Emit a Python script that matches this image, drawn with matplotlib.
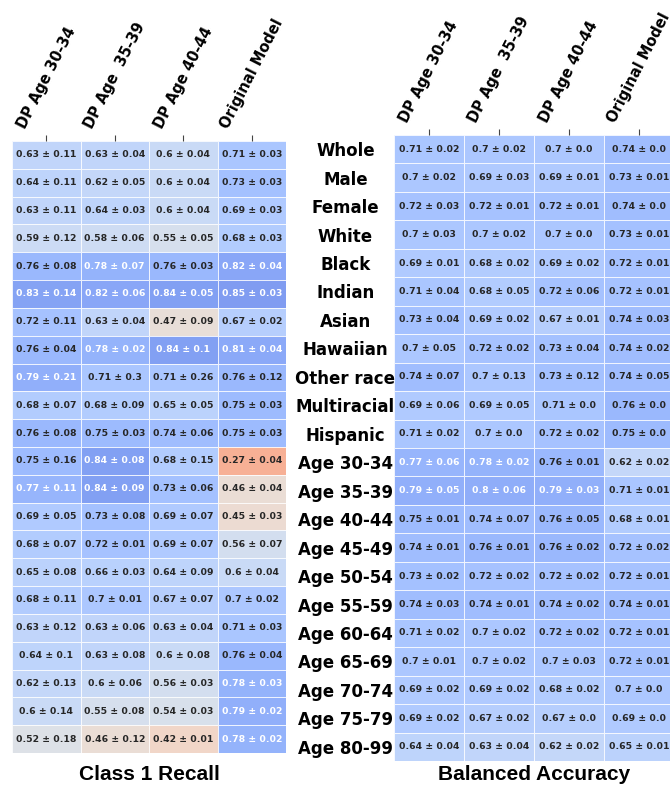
import matplotlib
matplotlib.use('Agg')
import matplotlib.pyplot as plt
import numpy as np

groups = ['Whole', 'Male', 'Female', 'White', 'Black', 'Indian', 'Asian', 'Hawaiian',
          'Other race', 'Multiracial', 'Hispanic', 'Age 30-34', 'Age 35-39', 'Age 40-44',
          'Age 45-49', 'Age 50-54', 'Age 55-59', 'Age 60-64', 'Age 65-69', 'Age 70-74',
          'Age 75-79', 'Age 80-99']
models = ['DP Age 30-34', 'DP Age  35-39', 'DP Age 40-44', 'Original Model']

recall_mean = [
    [0.63, 0.63, 0.6, 0.71],
    [0.64, 0.62, 0.6, 0.73],
    [0.63, 0.64, 0.6, 0.69],
    [0.59, 0.58, 0.55, 0.68],
    [0.76, 0.78, 0.76, 0.82],
    [0.83, 0.82, 0.84, 0.85],
    [0.72, 0.63, 0.47, 0.67],
    [0.76, 0.78, 0.84, 0.81],
    [0.79, 0.71, 0.71, 0.76],
    [0.68, 0.68, 0.65, 0.75],
    [0.76, 0.75, 0.74, 0.75],
    [0.75, 0.84, 0.68, 0.27],
    [0.77, 0.84, 0.73, 0.46],
    [0.69, 0.73, 0.69, 0.45],
    [0.68, 0.72, 0.69, 0.56],
    [0.65, 0.66, 0.64, 0.6],
    [0.68, 0.7, 0.67, 0.7],
    [0.63, 0.63, 0.63, 0.71],
    [0.64, 0.63, 0.6, 0.76],
    [0.62, 0.6, 0.56, 0.78],
    [0.6, 0.55, 0.54, 0.79],
    [0.52, 0.46, 0.42, 0.78],
]
recall_std = [
    [0.11, 0.04, 0.04, 0.03],
    [0.11, 0.05, 0.04, 0.03],
    [0.11, 0.03, 0.04, 0.03],
    [0.12, 0.06, 0.05, 0.03],
    [0.08, 0.07, 0.03, 0.04],
    [0.14, 0.06, 0.05, 0.03],
    [0.11, 0.04, 0.09, 0.02],
    [0.04, 0.02, 0.1, 0.04],
    [0.21, 0.3, 0.26, 0.12],
    [0.07, 0.09, 0.05, 0.03],
    [0.08, 0.03, 0.06, 0.03],
    [0.16, 0.08, 0.15, 0.04],
    [0.11, 0.09, 0.06, 0.04],
    [0.05, 0.08, 0.07, 0.03],
    [0.07, 0.01, 0.07, 0.07],
    [0.08, 0.03, 0.09, 0.04],
    [0.11, 0.01, 0.07, 0.02],
    [0.12, 0.06, 0.04, 0.03],
    [0.1, 0.08, 0.08, 0.04],
    [0.13, 0.06, 0.03, 0.03],
    [0.14, 0.08, 0.03, 0.02],
    [0.18, 0.12, 0.01, 0.02],
]
bacc_mean = [
    [0.71, 0.7, 0.7, 0.74],
    [0.7, 0.69, 0.69, 0.73],
    [0.72, 0.72, 0.72, 0.74],
    [0.7, 0.7, 0.7, 0.73],
    [0.69, 0.68, 0.69, 0.72],
    [0.71, 0.68, 0.72, 0.72],
    [0.73, 0.69, 0.67, 0.74],
    [0.7, 0.72, 0.73, 0.74],
    [0.74, 0.7, 0.73, 0.74],
    [0.69, 0.69, 0.71, 0.76],
    [0.71, 0.7, 0.72, 0.75],
    [0.77, 0.78, 0.76, 0.62],
    [0.79, 0.8, 0.79, 0.71],
    [0.75, 0.74, 0.76, 0.68],
    [0.74, 0.76, 0.76, 0.72],
    [0.73, 0.72, 0.72, 0.72],
    [0.74, 0.74, 0.74, 0.74],
    [0.71, 0.7, 0.72, 0.72],
    [0.7, 0.7, 0.7, 0.72],
    [0.69, 0.69, 0.68, 0.7],
    [0.69, 0.67, 0.67, 0.69],
    [0.64, 0.63, 0.62, 0.65],
]
bacc_std = [
    [0.02, 0.02, 0.0, 0.0],
    [0.02, 0.03, 0.01, 0.01],
    [0.03, 0.01, 0.01, 0.0],
    [0.03, 0.02, 0.0, 0.01],
    [0.01, 0.02, 0.02, 0.01],
    [0.04, 0.05, 0.06, 0.01],
    [0.04, 0.02, 0.01, 0.03],
    [0.05, 0.02, 0.04, 0.02],
    [0.07, 0.13, 0.12, 0.05],
    [0.06, 0.05, 0.0, 0.0],
    [0.02, 0.0, 0.02, 0.0],
    [0.06, 0.02, 0.01, 0.02],
    [0.05, 0.06, 0.03, 0.01],
    [0.01, 0.07, 0.05, 0.01],
    [0.01, 0.01, 0.02, 0.02],
    [0.02, 0.02, 0.02, 0.01],
    [0.03, 0.01, 0.02, 0.01],
    [0.02, 0.02, 0.02, 0.01],
    [0.01, 0.02, 0.03, 0.01],
    [0.02, 0.02, 0.02, 0.0],
    [0.02, 0.02, 0.0, 0.0],
    [0.04, 0.04, 0.02, 0.01],
]

W, H = 670, 785
fig = plt.figure(figsize=(W / 100, H / 100), dpi=100)


def heatmap(ax, mean, std, title, labelpad):
    m = np.array(mean)
    ax.pcolormesh(m, cmap='coolwarm_r', vmin=0, vmax=1, alpha=0.85,
                  edgecolors='white', linewidth=0.5)
    for i in range(m.shape[0]):
        for j in range(m.shape[1]):
            col = 'white' if mean[i][j] >= 0.765 else '#262626'
            ax.text(j + 0.5, i + 0.5, f"{mean[i][j]} \u00b1 {std[i][j]}", ha='center', va='center',
                    fontsize=6.7, fontweight='bold', color=col)
    ax.set_xlim(0, m.shape[1])
    ax.set_ylim(m.shape[0], 0)
    ax.xaxis.tick_top()
    ax.set_xticks(np.arange(m.shape[1]) + 0.5)
    ax.set_xticklabels(models, rotation=63, fontsize=10.5, fontweight='bold')
    ax.tick_params(axis='x', length=4, color='#444444', pad=3)
    for s in ax.spines.values():
        s.set_visible(False)
    ax.xaxis.set_label_position('bottom')
    ax.set_xlabel(title, fontsize=15, fontweight='bold', family='Liberation Sans', labelpad=labelpad)


ax1 = fig.add_axes([12 / W, 1 - 753 / H, 274 / W, 612 / H])
heatmap(ax1, recall_mean, recall_std, 'Class 1 Recall', 9)
ax1.set_yticks([])

ax2 = fig.add_axes([394 / W, 1 - 761 / H, 280 / W, 626 / H])
heatmap(ax2, bacc_mean, bacc_std, 'Balanced Accuracy', 3)
ax2.set_yticks(np.arange(len(groups)) + 0.5)
ax2.set_yticklabels(groups, fontsize=12, fontweight='bold', ha='center')
ax2.tick_params(axis='y', length=0, pad=35)

fig.savefig('out.png', dpi=100)
